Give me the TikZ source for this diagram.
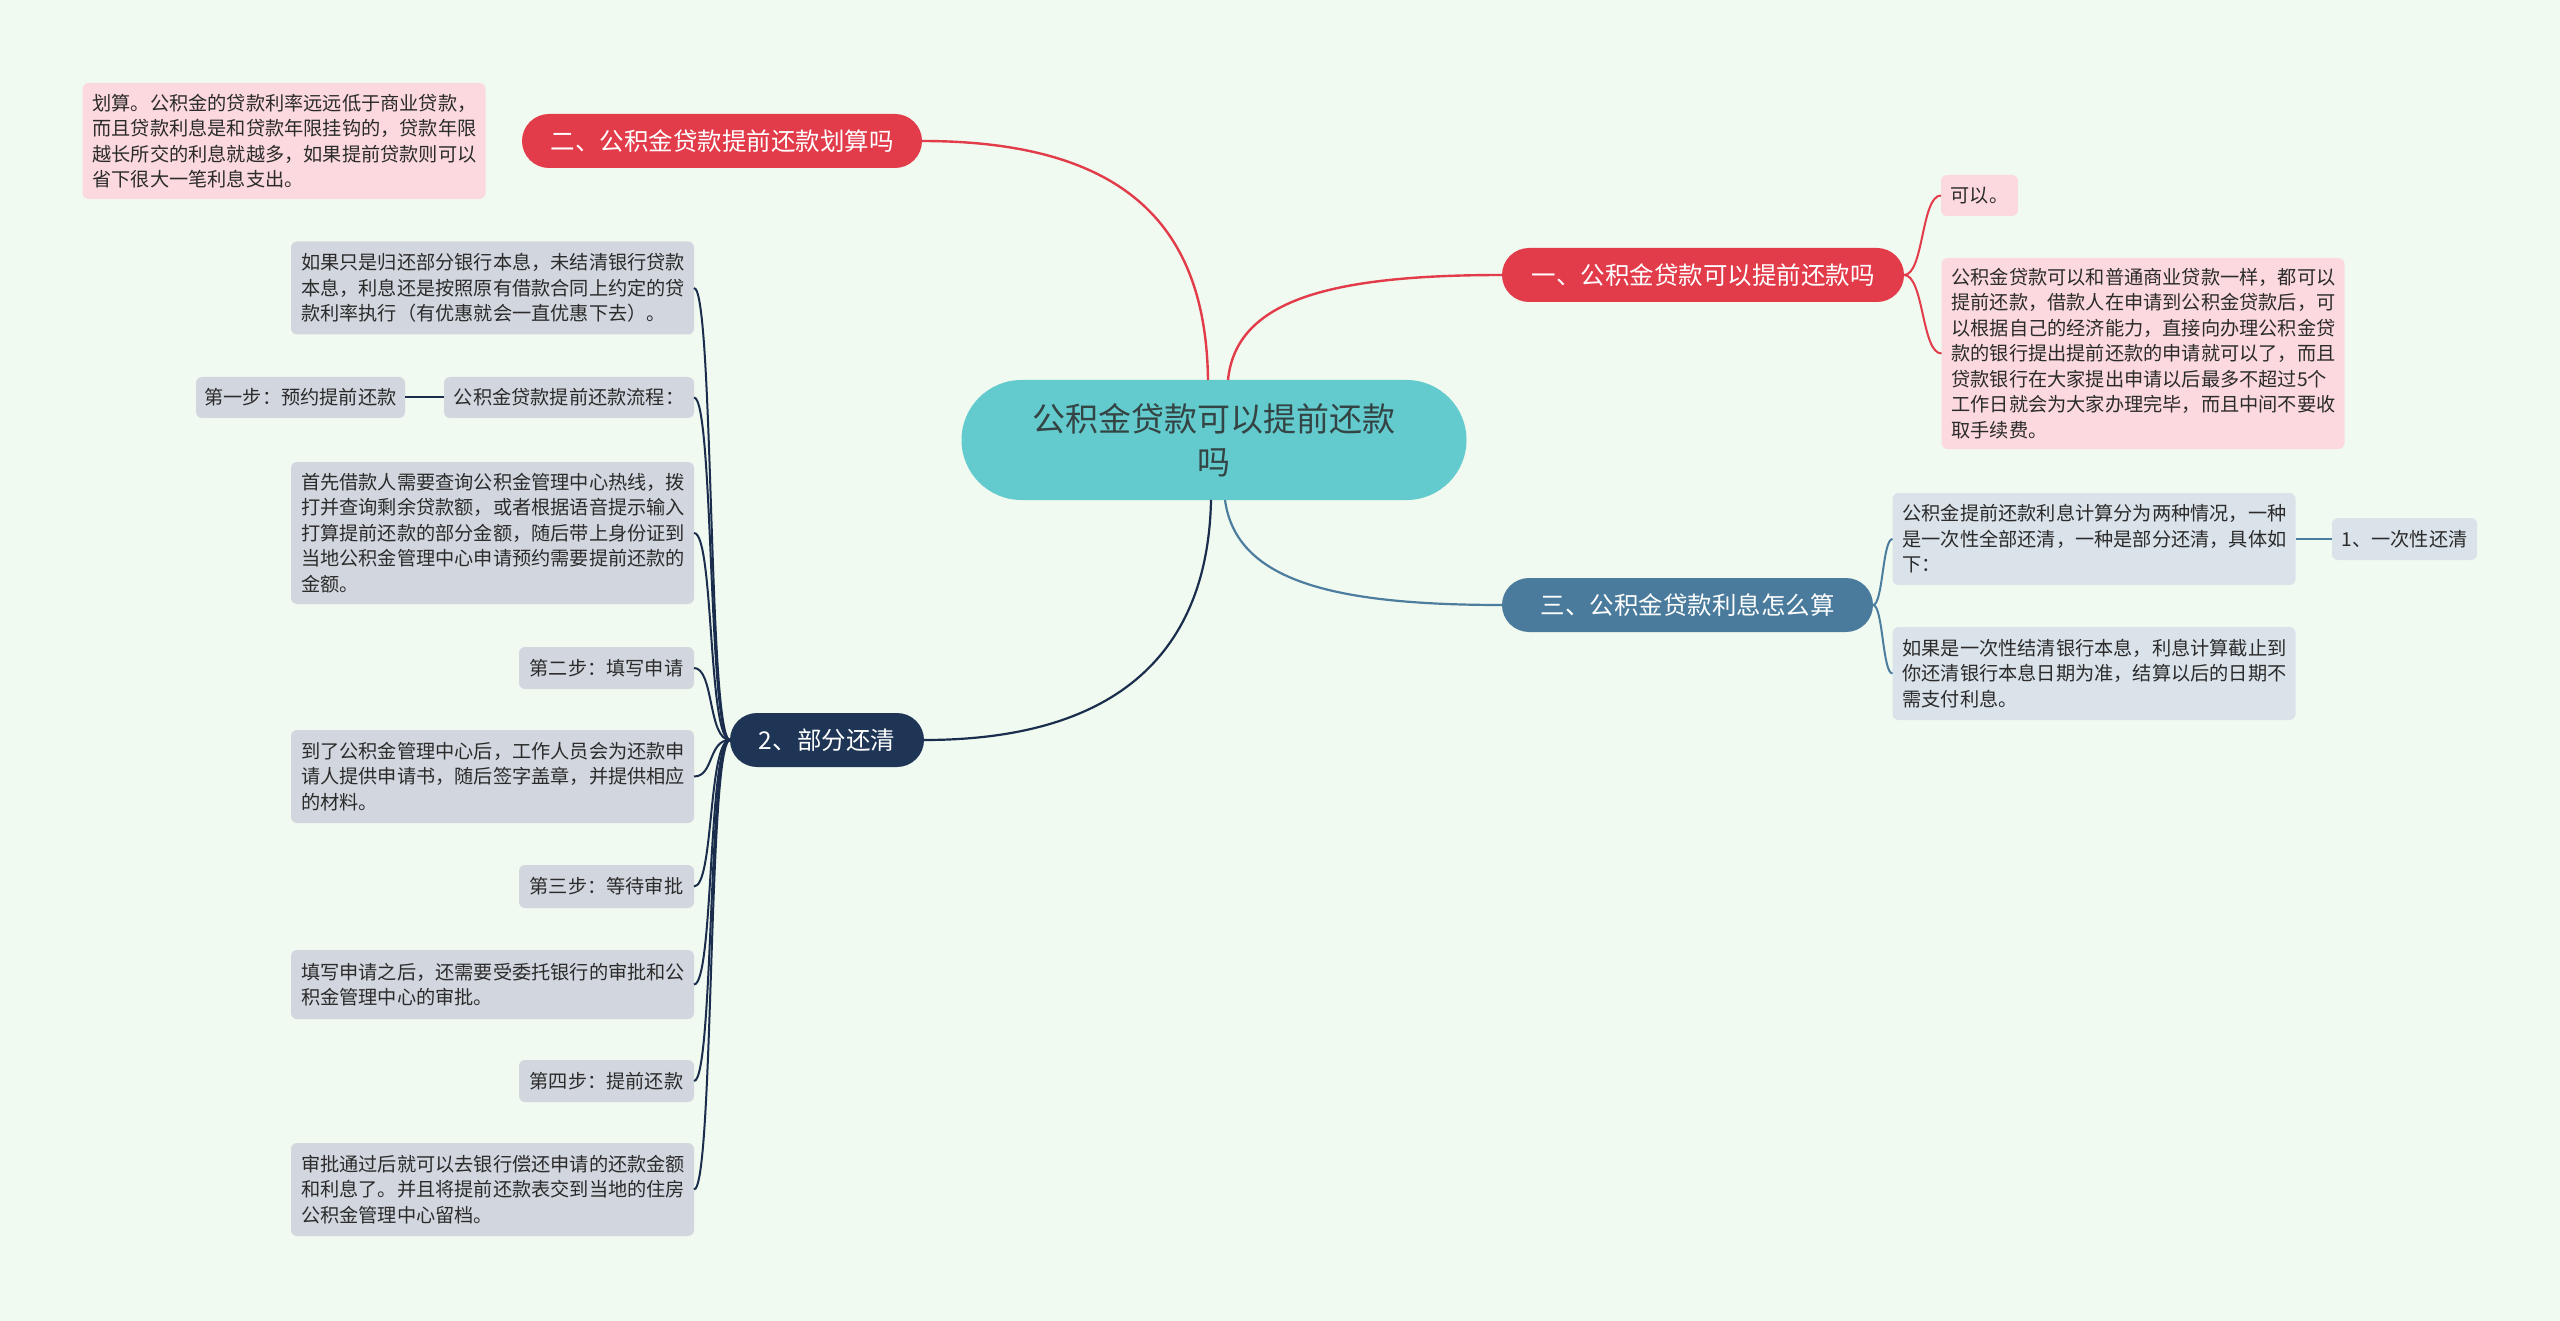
\documentclass[tikz,border=0pt]{standalone}
\usepackage{fontspec}
\setmainfont{Noto Sans CJK SC}
\definecolor{bgc}{HTML}{F0FAF0}
\definecolor{redc}{HTML}{E23B4A}
\definecolor{pinkc}{HTML}{FBD9DE}
\definecolor{navyc}{HTML}{1E3556}
\definecolor{navyl}{HTML}{1B2D4D}
\definecolor{grayc}{HTML}{D2D7DF}
\definecolor{bluec}{HTML}{4A7B9C}
\definecolor{bluel}{HTML}{4C7D9F}
\definecolor{lbluec}{HTML}{DAE2EA}
\definecolor{tealc}{HTML}{63CBCD}
\definecolor{txtc}{HTML}{2B2B2B}
\begin{document}
\begin{tikzpicture}[x=1pt,y=-1pt,
  every node/.style={inner sep=0pt, outer sep=0pt},
  small/.style={font=\fontsize{19.2}{25.5}\selectfont, text=txtc},
  leaf/.style={small, rounded corners=6pt, align=center},
  multi/.style={small, rounded corners=6pt, align=left, inner xsep=10pt, text width=383pt},
  gfill/.style={fill=grayc},
  pfill/.style={fill=pinkc},
  bfill/.style={fill=lbluec},
  topic/.style={font=\fontsize{24.5}{30}\selectfont, text=white, rounded corners=27pt, minimum height=54pt},
  redline/.style={draw=redc, line width=2.4pt},
  navyline/.style={draw=navyl, line width=2.2pt},
  blueline/.style={draw=bluel, line width=2.2pt}
]
\fill[bgc] (0,0) rectangle (2560,1321);
\useasboundingbox (0,0) rectangle (2560,1321);

% central
\node[fill=tealc, rounded corners=60pt, minimum width=505pt, minimum height=120pt,
  font=\fontsize{33}{43}\selectfont, text=txtc!85!tealc, align=center] (c) at (1214,440) {公积金贷款可以提前还款\\吗};

% topics
\node[topic, fill=redc, minimum width=400pt] (r2) at (722,141) {二、公积金贷款提前还款划算吗};
\node[topic, fill=navyc, minimum width=194pt] (nv) at (827,740) {2、部分还清};
\node[topic, fill=redc, minimum width=402pt] (r1) at (1703,275) {一、公积金贷款可以提前还款吗};
\node[topic, fill=bluec, minimum width=371pt] (bl) at (1687.5,605) {三、公积金贷款利息怎么算};

% left pink
\node[multi, pfill, minimum height=116pt] (pl) at (284,141) {划算。公积金的贷款利率远远低于商业贷款，\\而且贷款利息是和贷款年限挂钩的，贷款年限\\越长所交的利息就越多，如果提前贷款则可以\\省下很大一笔利息支出。};

% left gray
\node[multi, gfill, minimum height=93pt] (g1) at (492.5,288) {如果只是归还部分银行本息，未结清银行贷款\\本息，利息还是按照原有借款合同上约定的贷\\款利率执行（有优惠就会一直优惠下去）。};
\node[leaf, gfill, minimum width=250pt, minimum height=41pt] (g2) at (569,397.5) {公积金贷款提前还款流程：};
\node[leaf, gfill, minimum width=209pt, minimum height=41pt] (g2c) at (300.5,397.5) {第一步：预约提前还款};
\node[multi, gfill, minimum height=142pt] (g3) at (492.5,533) {首先借款人需要查询公积金管理中心热线，拨\\打并查询剩余贷款额，或者根据语音提示输入\\打算提前还款的部分金额，随后带上身份证到\\当地公积金管理中心申请预约需要提前还款的\\金额。};
\node[leaf, gfill, minimum width=175pt, minimum height=42pt] (g4) at (606.5,668) {第二步：填写申请};
\node[multi, gfill, minimum height=93pt] (g5) at (492.5,776.5) {到了公积金管理中心后，工作人员会为还款申\\请人提供申请书，随后签字盖章，并提供相应\\的材料。};
\node[leaf, gfill, minimum width=175pt, minimum height=43pt] (g6) at (606.5,886.5) {第三步：等待审批};
\node[multi, gfill, minimum height=69pt] (g7) at (492.5,984.5) {填写申请之后，还需要受委托银行的审批和公\\积金管理中心的审批。};
\node[leaf, gfill, minimum width=175pt, minimum height=42pt] (g8) at (606.5,1081) {第四步：提前还款};
\node[multi, gfill, minimum height=93pt] (g9) at (492.5,1189.5) {审批通过后就可以去银行偿还申请的还款金额\\和利息了。并且将提前还款表交到当地的住房\\公积金管理中心留档。};

% right pink
\node[leaf, pfill, minimum width=77pt, minimum height=41pt] (p1) at (1979.5,195.5) {可以。};
\node[multi, pfill, minimum height=191pt] (p2) at (2143,353.5) {公积金贷款可以和普通商业贷款一样，都可以\\提前还款，借款人在申请到公积金贷款后，可\\以根据自己的经济能力，直接向办理公积金贷\\款的银行提出提前还款的申请就可以了，而且\\贷款银行在大家提出申请以后最多不超过5个\\工作日就会为大家办理完毕，而且中间不要收\\取手续费。};

% right blue
\node[multi, bfill, minimum height=92pt] (b1) at (2094,539) {公积金提前还款利息计算分为两种情况，一种\\是一次性全部还清，一种是部分还清，具体如\\下：};
\node[leaf, bfill, minimum width=145pt, minimum height=42pt] (b1c) at (2404.5,539) {1、一次性还清};
\node[multi, bfill, minimum height=93pt] (b2) at (2094,673.5) {如果是一次性结清银行本息，利息计算截止到\\你还清银行本息日期为准，结算以后的日期不\\需支付利息。};

% main connectors
\draw[redline] (r2.east) .. controls (1130,141) and (1206,230) .. ([xshift=-6pt]c.north);
\draw[redline] ([xshift=14pt]c.north) .. controls (1236,300) and (1330,275) .. (r1.west);
\draw[blueline] ([xshift=11pt]c.south) .. controls (1236,580) and (1330,605) .. (bl.west);
\draw[navyline] ([xshift=-3pt]c.south) .. controls (1208,650) and (1120,740) .. (nv.east);

% left sub connectors
\foreach \n in {g1,g2,g3,g4,g5,g6,g7,g8,g9}
  \draw[navyline, line width=2pt] (nv.west) .. controls +(-22,0) and +(20,0) .. (\n.east);
\draw[navyline, line width=2pt] (g2.west) -- (g2c.east);

% right sub connectors
\foreach \n in {p1,p2}
  \draw[redline, line width=2pt] (r1.east) .. controls +(20,0) and +(-20,0) .. (\n.west);
\foreach \n in {b1,b2}
  \draw[blueline, line width=2pt] (bl.east) .. controls +(10,0) and +(-10,0) .. (\n.west);
\draw[blueline, line width=2pt] (b1.east) -- (b1c.west);
\end{tikzpicture}
\end{document}
